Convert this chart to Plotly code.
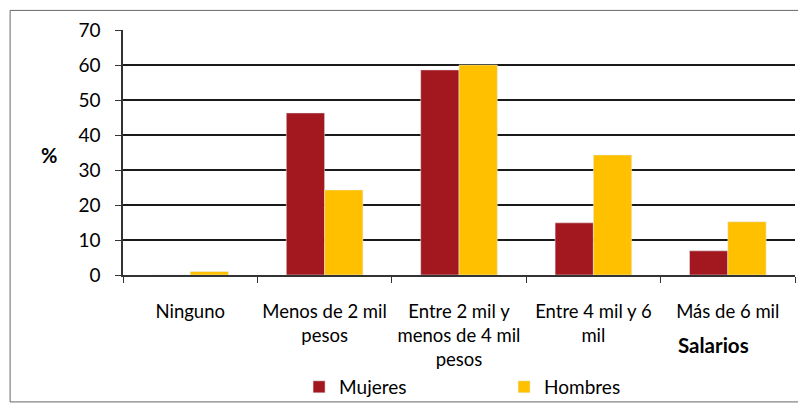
import plotly.graph_objects as go

categorias = ["Ninguno", "Menos de 2 mil pesos", "Entre 2 mil y menos de 4 mil pesos",
              "Entre 4 mil y 6 mil", "Más de 6 mil"]
etiquetas = ["Ninguno", "Menos de 2 mil<br>pesos", "Entre 2 mil y<br>menos de 4 mil<br>pesos",
             "Entre 4 mil y 6<br>mil", "Más de 6 mil"]
mujeres = [0, 46.3, 58.6, 14.9, 6.9]
hombres = [1.0, 24.3, 60.0, 34.3, 15.2]
y_ticks = [0, 10, 20, 30, 40, 50, 60, 70]

FONT = "Lato"

fig = go.Figure()
fig.add_trace(go.Bar(name="Mujeres", x=categorias, y=mujeres, marker_color="#A3181E"))
fig.add_trace(go.Bar(name="Hombres", x=categorias, y=hombres, marker_color="#FFC000"))

fig.update_layout(
    width=798, height=397,
    margin=dict(l=115, r=11, t=22, b=130, autoexpand=False),
    paper_bgcolor="white", plot_bgcolor="white",
    barmode="group", bargap=0.43, bargroupgap=0,
    font=dict(family=FONT, size=17, color="#000"),
    showlegend=True,
    legend=dict(orientation="h", x=0.262, y=-0.457, xanchor="left", yanchor="middle",
                entrywidth=160, entrywidthmode="pixels", font=dict(size=19),
                bgcolor="rgba(0,0,0,0)"),
    xaxis=dict(tickmode="array", tickvals=categorias, ticktext=etiquetas,
               ticks="outside", tickson="boundaries", ticklen=6, tickcolor="#333",
               showline=True, linecolor="#333", linewidth=1.5, automargin=False,
               tickfont=dict(size=18.5), ticklabelstandoff=19, fixedrange=True),
    yaxis=dict(range=[0, 70], tickvals=y_ticks, ticks="outside", ticklen=6,
               tickcolor="#333", showline=True, linecolor="#333", linewidth=1.5,
               showgrid=True, gridcolor="#1a1a1a", gridwidth=1.5, automargin=False,
               tickfont=dict(size=19), ticklabelstandoff=11, zeroline=False),
    annotations=[
        dict(text="<b>%</b>", xref="paper", yref="paper", x=-0.110, y=0.49,
             xanchor="center", yanchor="middle", showarrow=False, font=dict(size=20)),
        dict(text="<b>Salarios</b>", xref="paper", yref="paper", x=0.879, y=-0.286,
             xanchor="center", yanchor="middle", showarrow=False, font=dict(size=20.5)),
    ],
    shapes=[dict(type="rect", xref="paper", yref="paper",
                 x0=-0.168, x1=1.007, y0=-0.518, y1=1.08,
                 line=dict(color="#666", width=1))],
)

fig.write_html("out.html")
